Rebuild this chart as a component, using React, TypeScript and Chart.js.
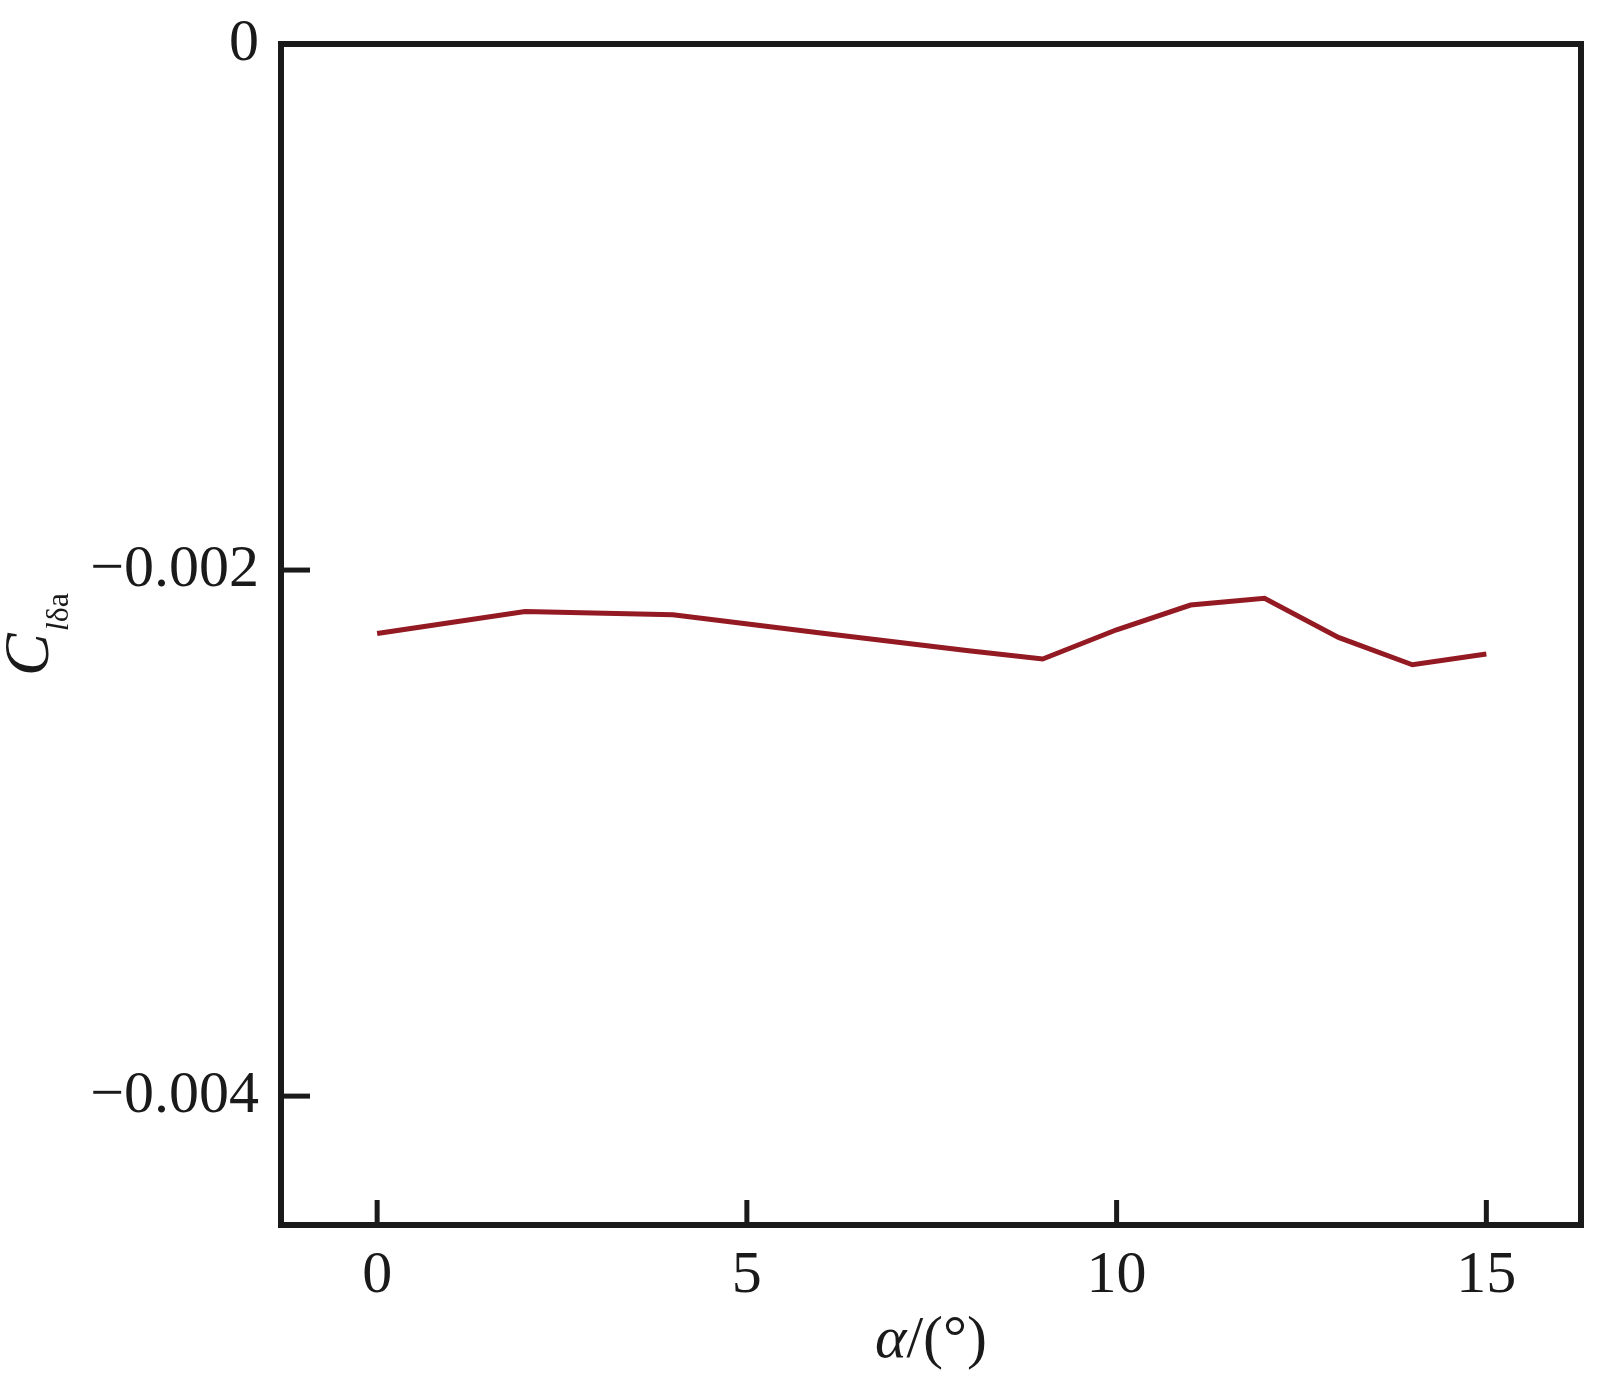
import React, { useEffect, useRef } from "react";
import { Chart, registerables } from "chart.js";

Chart.register(...registerables);

// ---- data ----
const alphaDeg = [0, 2, 4, 6, 8, 9, 10, 11, 12, 13, 14, 15];
const clDeltaA = [
  -0.002241, -0.002158, -0.00217, -0.002239, -0.002307, -0.002338,
  -0.002227, -0.002133, -0.002107, -0.002256, -0.00236, -0.002319,
];
const xTicks = [0, 5, 10, 15];
const xTickLabels = ["0", "5", "10", "15"];
const yTicks = [0, -0.002, -0.004];
const yTickLabels = ["0", "\u22120.002", "\u22120.004"];

const FONT = "'Liberation Serif', 'Times New Roman', serif";
const W = 1612;
const H = 1387;

const framePlugin = {
  id: "frameAndTitles",
  afterDraw(chart: any) {
    const ctx = chart.ctx as CanvasRenderingContext2D;
    const area = chart.chartArea;
    const xs = chart.scales.x;
    const ys = chart.scales.y;
    ctx.save();
    ctx.strokeStyle = "#1a1a1a";
    ctx.lineCap = "butt";
    // inward ticks
    ctx.lineWidth = 5;
    xTicks.forEach((v) => {
      const px = xs.getPixelForValue(v);
      ctx.beginPath();
      ctx.moveTo(px, area.bottom);
      ctx.lineTo(px, area.bottom - 25);
      ctx.stroke();
    });
    yTicks.forEach((v) => {
      const py = ys.getPixelForValue(v);
      ctx.beginPath();
      ctx.moveTo(area.left, py);
      ctx.lineTo(area.left + 29, py);
      ctx.stroke();
    });
    // frame
    ctx.lineWidth = 6;
    ctx.lineJoin = "miter";
    ctx.strokeRect(area.left, area.top, area.right - area.left, area.bottom - area.top);

    ctx.fillStyle = "#1a1a1a";
    // x title: α/(°)
    const cx = (area.left + area.right) / 2;
    const baseX = 1357;
    ctx.textBaseline = "alphabetic";
    ctx.font = `italic 60px ${FONT}`;
    const a = "\u03b1";
    const aw = ctx.measureText(a).width;
    ctx.font = `60px ${FONT}`;
    const rest = "/(\u00b0)";
    const rw = ctx.measureText(rest).width;
    const start = cx - (aw + rw) / 2;
    ctx.font = `italic 60px ${FONT}`;
    ctx.textAlign = "left";
    ctx.fillText(a, start, baseX);
    ctx.font = `60px ${FONT}`;
    ctx.fillText(rest, start + aw, baseX);

    // y title: C_{lδa}, rotated
    const cy = (area.top + area.bottom) / 2;
    ctx.font = `italic 64px ${FONT}`;
    const cw = ctx.measureText("C").width;
    ctx.font = `italic 32px ${FONT}`;
    const lw = ctx.measureText("l").width;
    ctx.font = `32px ${FONT}`;
    const dw = ctx.measureText("\u03b4a").width;
    const total = cw + 2 + lw + dw;
    ctx.translate(48, cy + total / 2);
    ctx.rotate(-Math.PI / 2);
    ctx.font = `italic 64px ${FONT}`;
    ctx.fillText("C", 0, 0);
    ctx.font = `italic 32px ${FONT}`;
    ctx.fillText("l", cw + 2, 20);
    ctx.font = `32px ${FONT}`;
    ctx.fillText("\u03b4a", cw + 2 + lw, 20);
    ctx.restore();
  },
};

export default function App() {
  const ref = useRef<HTMLCanvasElement | null>(null);
  useEffect(() => {
    if (!ref.current) return;
    const chart = new Chart(ref.current, {
      type: "line",
      data: {
        datasets: [
          {
            data: alphaDeg.map((x, i) => ({ x, y: clDeltaA[i] })),
            borderColor: "#931a22",
            borderWidth: 5,
            pointRadius: 0,
            tension: 0,
            fill: false,
          },
        ],
      },
      options: {
        responsive: false,
        animation: false,
        layout: { padding: { top: 44, right: 31, left: 0, bottom: 0 } },
        plugins: { legend: { display: false }, tooltip: { enabled: false } },
        scales: {
          x: {
            type: "linear",
            min: -1.3,
            max: 16.28,
            grid: { display: false, drawTicks: false },
            border: { display: false },
            afterBuildTicks: (s: any) => {
              s.ticks = xTicks.map((v) => ({ value: v }));
            },
            afterFit: (s: any) => {
              s.height = H - 1225;
              s.paddingLeft = 0;
              s.paddingRight = 0;
              s.paddingTop = 0;
              s.paddingBottom = 0;
            },
            ticks: {
              padding: 21,
              maxRotation: 0,
              autoSkip: false,
              color: "#1a1a1a",
              font: { family: FONT, size: 60, lineHeight: 1 },
              callback: (v: any) => {
                const i = xTicks.indexOf(Number(v));
                return i >= 0 ? xTickLabels[i] : "";
              },
            },
          },
          y: {
            type: "linear",
            min: -0.00449,
            max: 0,
            grid: { display: false, drawTicks: false },
            border: { display: false },
            afterBuildTicks: (s: any) => {
              s.ticks = yTicks.map((v) => ({ value: v }));
            },
            afterFit: (s: any) => {
              s.width = 281;
              s.paddingTop = 0;
              s.paddingBottom = 0;
              s.paddingLeft = 0;
              s.paddingRight = 0;
            },
            ticks: {
              padding: 22,
              autoSkip: false,
              color: "#1a1a1a",
              font: { family: FONT, size: 60, lineHeight: 1 },
              callback: (v: any) => {
                const i = yTicks.findIndex((t) => Math.abs(t - Number(v)) < 1e-9);
                return i >= 0 ? yTickLabels[i] : "";
              },
            },
          },
        },
      },
      plugins: [framePlugin],
    } as any);
    return () => chart.destroy();
  }, []);
  return (
    <div style={{ position: "absolute", left: 0, top: 0, width: W, height: H, background: "#fff" }}>
      <canvas ref={ref} width={W} height={H} style={{ display: "block", width: W, height: H }} />
    </div>
  );
}
